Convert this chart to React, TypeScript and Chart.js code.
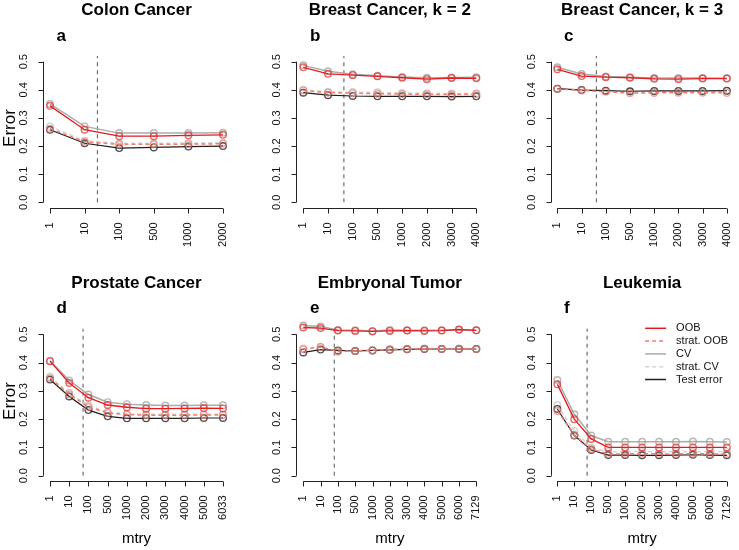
import React, { useEffect, useRef } from "react";
import { Chart, registerables } from "chart.js";

Chart.register(...registerables);

const FONT = '"Liberation Sans", Arial, Helvetica, sans-serif';

// ---------- data ----------
const seriesNames = ["OOB", "strat. OOB", "CV", "strat. CV", "Test error"];
const yTicks = [0, 0.1, 0.2, 0.3, 0.4, 0.5];
const yTickLabels = ["0.0", "0.1", "0.2", "0.3", "0.4", "0.5"];

const titles = ["Colon Cancer", "Breast Cancer, k = 2", "Breast Cancer, k = 3", "Prostate Cancer", "Embryonal Tumor", "Leukemia"];
const letters = ["a", "b", "c", "d", "e", "f"];

const mtryColon = ["1", "10", "100", "500", "1000", "2000"];
const mtryBreast = ["1", "10", "100", "500", "1000", "2000", "3000", "4000"];
const mtryProstate = ["1", "10", "100", "500", "1000", "2000", "3000", "4000", "5000", "6033"];
const mtryEmbryonal = ["1", "10", "100", "500", "1000", "2000", "3000", "4000", "5000", "6000", "7129"];
const mtryLeukemia = ["1", "10", "100", "500", "1000", "2000", "3000", "4000", "5000", "6000", "7129"];

// position of default mtry (sqrt of #genes) on the category index axis
const defaultMtryPos = [1.37, 1.64, 1.61, 1.72, 1.79, 1.76];

const colonOOB = [0.343, 0.258, 0.235, 0.235, 0.238, 0.240];
const colonStratOOB = [0.262, 0.215, 0.206, 0.206, 0.207, 0.208];
const colonCV = [0.350, 0.270, 0.246, 0.246, 0.246, 0.247];
const colonStratCV = [0.270, 0.219, 0.210, 0.210, 0.211, 0.212];
const colonTest = [0.258, 0.210, 0.193, 0.195, 0.198, 0.200];

const breast2OOB = [0.480, 0.457, 0.452, 0.448, 0.443, 0.438, 0.442, 0.441];
const breast2StratOOB = [0.398, 0.390, 0.388, 0.386, 0.385, 0.384, 0.383, 0.385];
const breast2CV = [0.487, 0.466, 0.455, 0.450, 0.446, 0.443, 0.444, 0.445];
const breast2StratCV = [0.400, 0.393, 0.392, 0.391, 0.389, 0.388, 0.387, 0.388];
const breast2Test = [0.390, 0.381, 0.378, 0.377, 0.377, 0.377, 0.376, 0.377];

const breast3OOB = [0.473, 0.449, 0.445, 0.443, 0.439, 0.438, 0.440, 0.440];
const breast3StratOOB = [0.403, 0.398, 0.393, 0.388, 0.389, 0.390, 0.390, 0.389];
const breast3CV = [0.480, 0.456, 0.447, 0.445, 0.442, 0.442, 0.442, 0.441];
const breast3StratCV = [0.404, 0.400, 0.396, 0.393, 0.393, 0.393, 0.394, 0.395];
const breast3Test = [0.404, 0.399, 0.397, 0.395, 0.396, 0.396, 0.396, 0.397];

const prostateOOB = [0.405, 0.328, 0.276, 0.250, 0.242, 0.237, 0.237, 0.238, 0.239, 0.238];
const prostateStratOOB = [0.345, 0.288, 0.243, 0.222, 0.216, 0.214, 0.214, 0.214, 0.215, 0.215];
const prostateCV = [0.406, 0.337, 0.287, 0.260, 0.253, 0.250, 0.248, 0.248, 0.249, 0.249];
const prostateStratCV = [0.350, 0.293, 0.248, 0.225, 0.218, 0.217, 0.217, 0.217, 0.217, 0.217];
const prostateTest = [0.340, 0.280, 0.232, 0.210, 0.203, 0.203, 0.203, 0.203, 0.204, 0.204];

const embryoOOB = [0.524, 0.522, 0.513, 0.512, 0.510, 0.512, 0.513, 0.512, 0.513, 0.517, 0.514];
const embryoStratOOB = [0.447, 0.455, 0.440, 0.441, 0.444, 0.446, 0.448, 0.449, 0.448, 0.449, 0.448];
const embryoCV = [0.531, 0.528, 0.515, 0.514, 0.512, 0.515, 0.514, 0.514, 0.514, 0.516, 0.514];
const embryoStratCV = [0.450, 0.456, 0.438, 0.441, 0.444, 0.447, 0.449, 0.450, 0.449, 0.450, 0.449];
const embryoTest = [0.436, 0.446, 0.443, 0.441, 0.443, 0.445, 0.447, 0.448, 0.448, 0.448, 0.448];

const leukOOB = [0.323, 0.200, 0.130, 0.100, 0.100, 0.100, 0.100, 0.100, 0.100, 0.100, 0.100];
const leukStratOOB = [0.229, 0.144, 0.094, 0.077, 0.077, 0.078, 0.077, 0.077, 0.078, 0.077, 0.077];
const leukCV = [0.338, 0.217, 0.142, 0.120, 0.120, 0.120, 0.120, 0.120, 0.121, 0.120, 0.119];
const leukStratCV = [0.250, 0.158, 0.099, 0.085, 0.085, 0.085, 0.085, 0.085, 0.085, 0.085, 0.085];
const leukTest = [0.236, 0.142, 0.091, 0.073, 0.073, 0.072, 0.072, 0.073, 0.074, 0.073, 0.072];

// ---------- styling / layout ----------
const W = 739;
const H = 550;
const colFirstTick = [50, 303.3, 557.5];
const tickSpan = 173;
const rowY0 = [202.3, 475.7];
const rowY05 = [61.7, 334.3];

const seriesStyle = [
  { color: "rgb(226,28,28)", point: "rgba(226,50,50,0.75)", dash: [], width: 1.3, order: 0 },
  { color: "rgb(240,125,110)", point: "rgba(236,130,118,0.7)", dash: [4, 3], width: 1.5, order: 1 },
  { color: "rgb(172,172,172)", point: "rgba(160,160,160,0.75)", dash: [], width: 1.5, order: 3 },
  { color: "rgb(214,214,214)", point: "rgba(200,200,200,0.8)", dash: [4, 3], width: 1.5, order: 4 },
  { color: "rgb(30,30,30)", point: "rgba(40,40,40,0.8)", dash: [], width: 1.2, order: 2 },
];

const vlineStyle = [
  { color: "#555", width: 1 },
  { color: "#999", width: 1.8 },
  { color: "#555", width: 1 },
  { color: "#555", width: 1 },
  { color: "#555", width: 1 },
  { color: "#999", width: 1.8 },
];

const panelLabels = [mtryColon, mtryBreast, mtryBreast, mtryProstate, mtryEmbryonal, mtryLeukemia];
const panelSeries = [
  [colonOOB, colonStratOOB, colonCV, colonStratCV, colonTest],
  [breast2OOB, breast2StratOOB, breast2CV, breast2StratCV, breast2Test],
  [breast3OOB, breast3StratOOB, breast3CV, breast3StratCV, breast3Test],
  [prostateOOB, prostateStratOOB, prostateCV, prostateStratCV, prostateTest],
  [embryoOOB, embryoStratOOB, embryoCV, embryoStratCV, embryoTest],
  [leukOOB, leukStratOOB, leukCV, leukStratCV, leukTest],
];

function rotText(ctx: CanvasRenderingContext2D, text: string, x: number, y: number, align: CanvasTextAlign, baseline: CanvasTextBaseline) {
  ctx.save();
  ctx.translate(x, y);
  ctx.rotate(-Math.PI / 2);
  ctx.textAlign = align;
  ctx.textBaseline = baseline;
  ctx.fillText(text, 0, 0);
  ctx.restore();
}

function makeConfig(p: number): any {
  const col = p % 3;
  const row = Math.floor(p / 3);
  const labels = panelLabels[p];
  const n = labels.length;
  const first = colFirstTick[col];
  const last = first + tickSpan;
  const pad = 0.04 * tickSpan;
  const y0 = rowY0[row];
  const y05 = rowY05[row];
  const ypad = 0.04 * (y0 - y05);

  const datasets = panelSeries[p].map((vals, s) => ({
    label: seriesNames[s],
    data: vals.map((v, i) => ({ x: i, y: v })),
    borderColor: seriesStyle[s].color,
    borderWidth: seriesStyle[s].width,
    borderDash: seriesStyle[s].dash,
    pointRadius: 3.3,
    pointBorderWidth: 1.4,
    pointBorderColor: seriesStyle[s].point,
    pointBackgroundColor: "rgba(0,0,0,0)",
    tension: 0,
    fill: false,
    clip: false,
    order: seriesStyle[s].order,
  }));

  const decor = {
    id: "decor" + p,
    beforeDatasetsDraw(chart: any) {
      const ctx = chart.ctx as CanvasRenderingContext2D;
      const xs = chart.scales.x;
      const ys = chart.scales.y;
      const vx = xs.getPixelForValue(defaultMtryPos[p]);
      ctx.save();
      ctx.strokeStyle = vlineStyle[p].color;
      ctx.lineWidth = vlineStyle[p].width;
      ctx.setLineDash([4, 4]);
      ctx.beginPath();
      ctx.moveTo(vx, ys.getPixelForValue(0));
      ctx.lineTo(vx, chart.chartArea.top);
      ctx.stroke();
      ctx.restore();
    },
    afterDraw(chart: any) {
      const ctx = chart.ctx as CanvasRenderingContext2D;
      const xs = chart.scales.x;
      const ys = chart.scales.y;
      const area = chart.chartArea;
      ctx.save();
      ctx.strokeStyle = "#222";
      ctx.fillStyle = "#111";
      ctx.lineWidth = 1;
      ctx.setLineDash([]);
      // y axis
      const ax = Math.round(area.left) + 0.5;
      ctx.beginPath();
      ctx.moveTo(ax, ys.getPixelForValue(0));
      ctx.lineTo(ax, ys.getPixelForValue(0.5));
      yTicks.forEach((t) => {
        const py = Math.round(ys.getPixelForValue(t)) + 0.5;
        ctx.moveTo(ax, py);
        ctx.lineTo(ax - 5, py);
      });
      ctx.stroke();
      ctx.font = `11px ${FONT}`;
      yTicks.forEach((t, i) => {
        rotText(ctx, yTickLabels[i], ax - 16.5, ys.getPixelForValue(t), "center", "alphabetic");
      });
      // x axis
      const ay = Math.round(area.bottom) + 0.5;
      ctx.beginPath();
      ctx.moveTo(xs.getPixelForValue(0), ay);
      ctx.lineTo(xs.getPixelForValue(n - 1), ay);
      labels.forEach((_, i) => {
        const px = Math.round(xs.getPixelForValue(i)) + 0.5;
        ctx.moveTo(px, ay);
        ctx.lineTo(px, ay + 5);
      });
      ctx.stroke();
      labels.forEach((lab, i) => {
        rotText(ctx, lab, xs.getPixelForValue(i), ay + 14, "right", "middle");
      });
      const cx = (area.left + area.right) / 2;
      const top05 = ys.getPixelForValue(0.5);
      // title
      ctx.fillStyle = "#000";
      ctx.font = `bold 17px ${FONT}`;
      ctx.textAlign = "center";
      ctx.textBaseline = "alphabetic";
      ctx.fillText(titles[p], cx, top05 - 46.5);
      // panel letter
      ctx.textAlign = "left";
      ctx.fillText(letters[p], area.left + 13.5, top05 - 21);
      // axis titles
      if (col === 0) {
        ctx.font = `17px ${FONT}`;
        rotText(ctx, "Error", 15, (ys.getPixelForValue(0) + top05) / 2 - 4, "center", "alphabetic");
      }
      if (row === 1) {
        ctx.font = `15px ${FONT}`;
        ctx.textAlign = "center";
        ctx.fillText("mtry", cx, 543);
      }
      // legend
      if (p === 5) {
        ctx.font = `11px ${FONT}`;
        ctx.textAlign = "left";
        ctx.textBaseline = "middle";
        const lx0 = area.right - 88.5;
        const lx1 = area.right - 67.5;
        const tx = area.right - 57.5;
        seriesNames.forEach((name, s) => {
          const ly = top05 - 6 + s * 12.8;
          ctx.strokeStyle = seriesStyle[s].color;
          ctx.lineWidth = 1.5;
          ctx.setLineDash(seriesStyle[s].dash);
          ctx.beginPath();
          ctx.moveTo(lx0, ly);
          ctx.lineTo(lx1, ly);
          ctx.stroke();
          ctx.fillStyle = "#111";
          ctx.fillText(name, tx, ly);
        });
      }
      ctx.restore();
    },
  };

  return {
    type: "line",
    data: { datasets },
    options: {
      animation: false,
      responsive: false,
      maintainAspectRatio: false,
      events: [],
      layout: {
        padding: {
          left: first - pad,
          right: W - (last + pad),
          top: y05 - ypad,
          bottom: H - (y0 + ypad),
        },
      },
      plugins: { legend: { display: false }, title: { display: false }, tooltip: { enabled: false } },
      scales: {
        x: { type: "linear", display: false, min: -0.04 * (n - 1), max: (n - 1) * 1.04 },
        y: { type: "linear", display: false, min: -0.02, max: 0.52 },
      },
    },
    plugins: [decor],
  };
}

export default function App() {
  const refs = useRef<(HTMLCanvasElement | null)[]>([]);
  useEffect(() => {
    const charts: Chart[] = [];
    for (let p = 0; p < 6; p++) {
      const c = refs.current[p];
      if (c) charts.push(new Chart(c, makeConfig(p)));
    }
    return () => charts.forEach((ch) => ch.destroy());
  }, []);
  return (
    <div style={{ position: "fixed", left: 0, top: 0, width: W, height: H, background: "#fff" }}>
      {[0, 1, 2, 3, 4, 5].map((p) => (
        <canvas
          key={p}
          ref={(el) => { refs.current[p] = el; }}
          width={W}
          height={H}
          style={{ position: "absolute", left: 0, top: 0, width: W, height: H }}
        />
      ))}
    </div>
  );
}
